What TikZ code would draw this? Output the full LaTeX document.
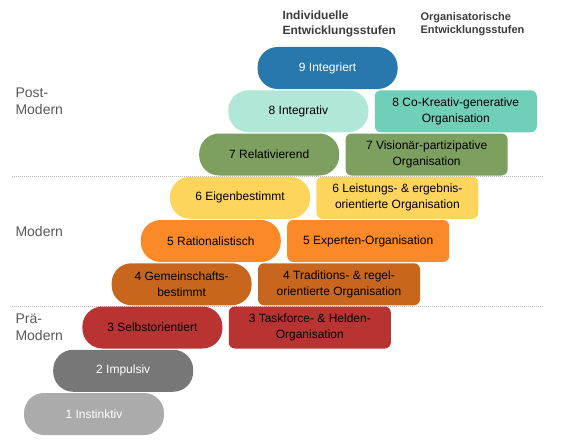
\documentclass[tikz,border=0pt]{standalone}
\usepackage{fontspec}
\setmainfont{Liberation Sans}
\usetikzlibrary{positioning}
\definecolor{blauNeun}{HTML}{2878AE}
\definecolor{mintAcht}{HTML}{B1E7D9}
\definecolor{tuerkisAcht}{HTML}{6FCFB8}
\definecolor{gruenSieben}{HTML}{7D9F60}
\definecolor{gelbSechs}{HTML}{FDD45C}
\definecolor{orangeFuenf}{HTML}{F98A27}
\definecolor{braunVier}{HTML}{C9661D}
\definecolor{rotDrei}{HTML}{BA3333}
\definecolor{grauZwei}{HTML}{777777}
\definecolor{grauEins}{HTML}{ABABAB}
\definecolor{schrift}{HTML}{3C3C3C}
\begin{document}
\begin{tikzpicture}[x = 1pt, y = -1pt,
    stufe/.style = {rounded corners = 20pt, minimum width = 140pt, minimum height = 42pt,
                    inner sep = 0pt, align = center, font = \fontsize{12}{16}\selectfont},
    orga/.style = {rounded corners = 6pt, minimum width = 162pt, minimum height = 42pt,
                   inner sep = 0pt, align = center, font = \fontsize{12}{16}\selectfont},
    ebene/.style = {anchor = west, align = left, text = schrift!85,
                    font = \fontsize{14}{17}\selectfont},
    kopf/.style = {anchor = west, align = left, text = schrift, font = \bfseries},
    grenze/.style = {gray!55, dashed, dash pattern = on 1pt off 1pt, line width = 0.6pt}]
    \useasboundingbox (0,0) rectangle (564,444);
    % Trennlinien
    \draw[grenze] (12,176) -- (544,176);
    \draw[grenze] (12,306) -- (544,306);
    % Ueberschriften
    \node[kopf, font = \bfseries\fontsize{12}{15}\selectfont] (indiv) at (279,24) {Individuelle\\Entwicklungsstufen};
    \node[kopf, font = \bfseries\fontsize{11}{13.5}\selectfont] (organ) at (417,24) {Organisatorische\\Entwicklungsstufen};
    \node[ebene] (post) at (12,101) {Post-\\Modern};
    \node[ebene] (modern) at (12,231) {Modern};
    \node[ebene] (prae) at (12,327) {Prä-\\Modern};
    % individuelle Stufen
    \node[stufe, fill = grauEins, text = white] (s1) at (94,414) {1 Instinktiv};
    \node[stufe, fill = grauZwei, text = white] (s2) at (123.2,370.75) {2 Impulsiv};
    \node[stufe, fill = rotDrei] (s3) at (152.4,327.5) {3 Selbstorientiert};
    \node[stufe, fill = braunVier] (s4) at (181.6,284.25) {4 Gemeinschafts-\\bestimmt};
    \node[stufe, fill = orangeFuenf] (s5) at (210.8,241) {5 Rationalistisch};
    \node[stufe, fill = gelbSechs] (s6) at (240,197.75) {6 Eigenbestimmt};
    \node[stufe, fill = gruenSieben] (s7) at (269.2,154.5) {7 Relativierend};
    \node[stufe, fill = mintAcht] (s8) at (298.4,111.25) {8 Integrativ};
    \node[stufe, fill = blauNeun, text = white] (s9) at (327.6,68) {9 Integriert};
    % organisatorische Stufen
    \node[orga, fill = rotDrei, right = 6pt of s3] (o3) {3 Taskforce- \& Helden-\\Organisation};
    \node[orga, fill = braunVier, right = 6pt of s4] (o4) {4 Traditions- \& regel-\\orientierte Organisation};
    \node[orga, fill = orangeFuenf, right = 6pt of s5] (o5) {5 Experten-Organisation};
    \node[orga, fill = gelbSechs, right = 6pt of s6] (o6) {6 Leistungs- \& ergebnis-\\orientierte Organisation};
    \node[orga, fill = gruenSieben, right = 6pt of s7] (o7) {7 Visionär-partizipative\\Organisation};
    \node[orga, fill = tuerkisAcht, right = 6pt of s8] (o8) {8 Co-Kreativ-generative\\Organisation};
\end{tikzpicture}
\end{document}
